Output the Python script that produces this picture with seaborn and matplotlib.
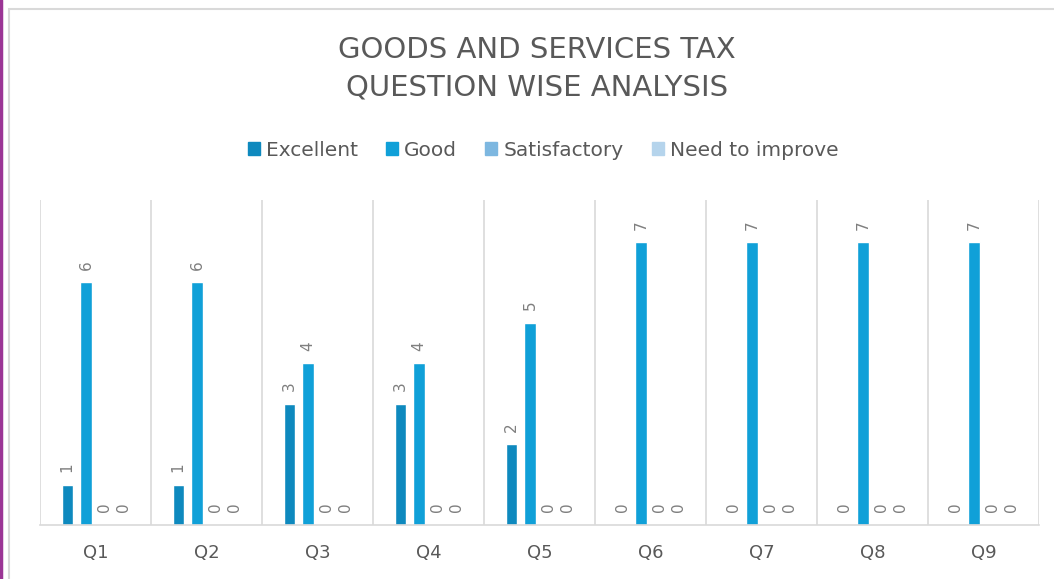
import matplotlib
matplotlib.use("Agg")
import matplotlib.pyplot as plt
import seaborn as sns
import pandas as pd
from matplotlib.lines import Line2D
from matplotlib.patches import Rectangle

questions = ["Q1", "Q2", "Q3", "Q4", "Q5", "Q6", "Q7", "Q8", "Q9"]
series_names = ["Excellent", "Good", "Satisfactory", "Need to improve"]
excellent = [1, 1, 3, 3, 2, 0, 0, 0, 0]
good = [6, 6, 4, 4, 5, 7, 7, 7, 7]
satisfactory = [0, 0, 0, 0, 0, 0, 0, 0, 0]
need_improve = [0, 0, 0, 0, 0, 0, 0, 0, 0]
colors = ["#0E89BE", "#10A0D8", "#7DB7E0", "#B5D4EC"]
title_text = "GOODS AND SERVICES TAX\nQUESTION WISE ANALYSIS"

rows = []
for name, vals in zip(series_names, [excellent, good, satisfactory, need_improve]):
    for q, v in zip(questions, vals):
        rows.append({"Question": q, "Rating": name, "Count": v})
df = pd.DataFrame(rows)

sns.set_theme(style="white")
plt.rcParams["font.family"] = ["DejaVu Sans"]

fig = plt.figure(figsize=(10.54, 5.79), dpi=100)
ax = fig.add_axes([40/1054, (579-525)/579, (1039-40)/1054, (525-200)/579])

sns.barplot(data=df, x="Question", y="Count", hue="Rating", order=questions,
            hue_order=series_names, palette=colors, width=0.68, gap=0.4,
            ax=ax, legend=False, saturation=1)

for cont in ax.containers:
    ax.bar_label(cont, rotation=90, padding=9, color="#7F7F7F", fontsize=11,
                 fmt="%d")

ax.set_ylim(0, 8.04)
ax.set_xlim(-0.5, len(questions) - 0.5)
ax.set_yticks([])
ax.set_xticks(range(len(questions)))
ax.set_xticks([i + 0.5 for i in range(-1, len(questions))], minor=True)
ax.grid(False)
ax.grid(True, which="minor", axis="x", color="#D9D9D9", linewidth=1.2)
ax.tick_params(axis="x", which="both", length=0, labelsize=13, labelcolor="#595959", pad=14)
ax.set_xlabel("")
ax.set_ylabel("")
for s in ["left", "right", "top"]:
    ax.spines[s].set_visible(False)
ax.spines["bottom"].set_color("#D9D9D9")
ax.spines["bottom"].set_linewidth(1.2)

handles = [Rectangle((0, 0), 1, 1, color=c) for c in colors]
fig.legend(handles, series_names, loc="center", bbox_to_anchor=(543/1054, 1 - 150/579),
           ncol=4, frameon=False, fontsize=14.5, handlelength=0.6, handleheight=0.6,
           handletextpad=0.3, columnspacing=1.4, labelcolor="#595959")

fig.text(537/1054, 1 - 69/579, title_text, ha="center", va="center", fontsize=21,
         color="#595959", linespacing=1.45)

# chart frame and left accent
fig.add_artist(Rectangle((9/1054, -0.1), 2, 1.1 - 9/579, transform=fig.transFigure, fill=False,
                         edgecolor="#D9D9D9", linewidth=1.5))
fig.add_artist(Line2D([1/1054, 1/1054], [0, 1], transform=fig.transFigure,
                      color="#9B3595", linewidth=2.5))

fig.savefig("out.png", dpi=100)
